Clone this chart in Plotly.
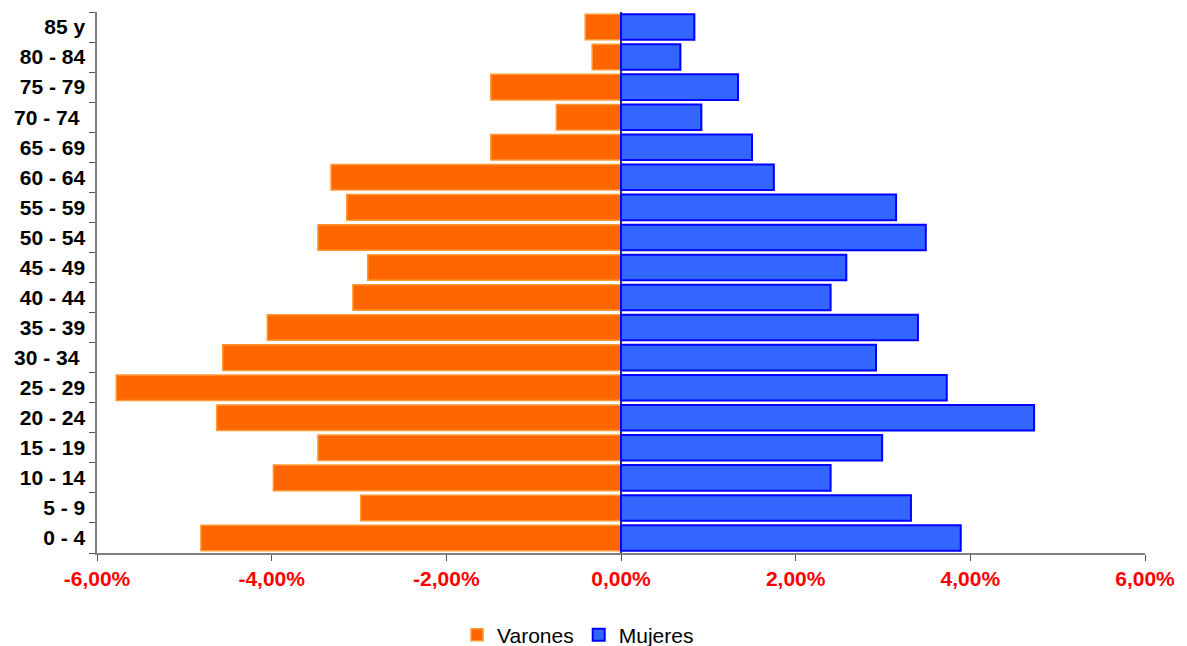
import plotly.graph_objects as go

categories = ["0 - 4", "5 - 9", "10 - 14", "15 - 19", "20 - 24", "25 - 29", "30 - 34 ",
              "35 - 39", "40 - 44", "45 - 49", "50 - 54", "55 - 59", "60 - 64", "65 - 69",
              "70 - 74 ", "75 - 79", "80 - 84", "85 y"]
varones = [-4.81, -2.98, -3.98, -3.47, -4.63, -5.78, -4.56, -4.05, -3.07, -2.90,
           -3.47, -3.14, -3.32, -1.49, -0.74, -1.49, -0.33, -0.41]
mujeres = [3.89, 3.32, 2.40, 2.99, 4.73, 3.73, 2.92, 3.40, 2.40, 2.58,
           3.49, 3.15, 1.75, 1.50, 0.92, 1.34, 0.68, 0.84]
tick_vals = [-6, -4, -2, 0, 2, 4, 6]
tick_text = ["-6,00%", "-4,00%", "-2,00%", "0,00%", "2,00%", "4,00%", "6,00%"]

fig = go.Figure()
fig.add_trace(go.Bar(y=categories, x=varones, orientation="h", name="Varones",
                     marker=dict(color="#FF6600", line=dict(color="#FF9933", width=1.5))))
fig.add_trace(go.Bar(y=categories, x=mujeres, orientation="h", name="Mujeres",
                     marker=dict(color="#3366FF", line=dict(color="#0000FF", width=2))))

fig.update_layout(
    width=1179, height=638,
    barmode="relative", bargap=0.15,
    plot_bgcolor="white", paper_bgcolor="white",
    margin=dict(l=89, r=42, t=4, b=93, autoexpand=False),
    font=dict(family="Liberation Sans, Arial, sans-serif", color="black"),
    xaxis=dict(range=[-6, 6], tickvals=tick_vals, ticktext=tick_text, automargin=False,
               tickfont=dict(color="#FF0000", size=21, weight="bold"),
               ticks="outside", ticklen=6, tickcolor="#555555",
               showline=True, linecolor="#808080", linewidth=2,
               showgrid=False, zeroline=True, zerolinecolor="#333333", zerolinewidth=1.5),
    yaxis=dict(tickfont=dict(size=21, color="black", weight="bold"), automargin=False,
               ticks="outside", ticklen=6, tickcolor="#555555", tickson="boundaries",
               showline=True, linecolor="#808080", linewidth=1.5, showgrid=False,
               range=[-0.5, 17.5], ticksuffix=" "),
    legend=dict(orientation="h", x=0.459, xanchor="center", y=-0.1516, yanchor="middle",
                font=dict(size=21, color="black"), traceorder="normal"),
)
fig.write_html("out.html")
